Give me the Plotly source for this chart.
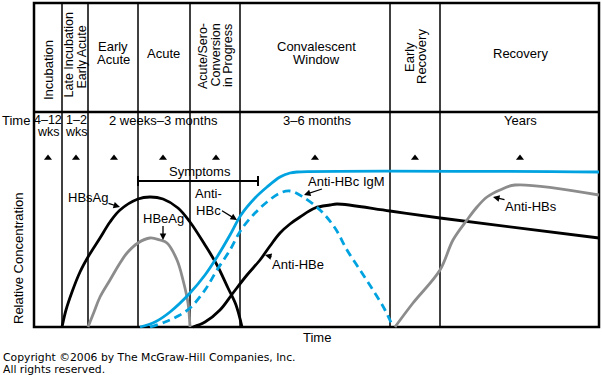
import plotly.graph_objects as go

# ---- data (schematic time units along x, relative concentration along y) ----
hbsag_t = [62, 66, 72, 80, 88, 100, 110, 120, 138, 150, 163, 178, 190, 205, 217, 228, 236, 242]
hbsag_c = [0, 17, 35, 55, 70, 89, 105, 117, 128, 130, 128, 119, 105, 82, 62, 39, 22, 0]
hbeag_t = [88, 94, 100, 110, 120, 127, 138, 150, 160, 167, 177, 183, 188, 190]
hbeag_c = [0, 15, 30, 47, 64, 74, 84, 89, 87, 84, 67, 47, 24, 0]
antihbc_t = [140, 155, 170, 190, 205, 217, 230, 241, 255, 267, 280, 290, 297, 599]
antihbc_c = [0, 5, 15, 34, 52, 70, 92, 112, 129, 140, 150, 154, 155, 155]
igm_t = [150, 165, 178, 190, 205, 217, 230, 241, 255, 267, 280, 290, 303, 320, 335, 347, 360, 373, 385, 393]
igm_c = [0, 5, 11, 19, 37, 57, 77, 97, 114, 125, 134, 136, 130, 117, 99, 77, 57, 37, 17, 0]
antihbe_t = [193, 205, 220, 233, 247, 260, 270, 280, 290, 300, 315, 330, 337, 390, 440, 599]
antihbe_c = [0, 5, 17, 34, 52, 67, 81, 94, 103, 110, 119, 122, 123, 116, 109, 89]
antihbs_t = [395, 413, 440, 453, 467, 477, 487, 500, 515, 599]
antihbs_c = [0, 24, 57, 87, 107, 120, 130, 137, 142, 132]

phase_bounds = [34, 62, 88, 138, 190, 240, 390, 440, 599]
marker_t = [48, 76, 114, 163, 216, 315, 415, 520]
symptoms_span = [138, 258]

BLUE = "#00A3E0"
GRAY = "#8C8C8C"
FONT = "Liberation Sans, Arial, sans-serif"

TOP = 324
HEADER = 215
MARK_Y = 169
SYM_Y = 146

# plot area geometry (pixels)
L, R, T, B = 30, 0, 0, 45
W, H = 602, 375
PW, PH = W - L - R, H - T - B

fig = go.Figure()

def curve(t, c, color, dash="solid"):
    fig.add_trace(go.Scatter(x=t, y=c, mode="lines", cliponaxis=False,
                             line=dict(color=color, width=2.8, shape="spline",
                                       smoothing=1.0, dash=dash),
                             hoverinfo="skip"))

curve(hbsag_t, hbsag_c, "black")
curve(hbeag_t, hbeag_c, GRAY)
curve(antihbe_t, antihbe_c, "black")
curve(antihbs_t, antihbs_c, GRAY)
curve(igm_t, igm_c, BLUE, dash="8px,5px")
curve(antihbc_t, antihbc_c, BLUE)

fig.add_trace(go.Scatter(x=marker_t, y=[MARK_Y] * len(marker_t), mode="markers",
                         marker=dict(symbol="triangle-up", size=7, color="black"),
                         hoverinfo="skip", cliponaxis=False))

shapes = []
shapes.append(dict(type="rect", x0=phase_bounds[0], x1=phase_bounds[-1], y0=0, y1=TOP,
                   line=dict(color="black", width=2.5), layer="below"))
shapes.append(dict(type="line", x0=phase_bounds[0], x1=phase_bounds[-1], y0=HEADER, y1=HEADER,
                   line=dict(color="black", width=2.5), layer="below"))
for b in phase_bounds[1:-1]:
    shapes.append(dict(type="line", x0=b, x1=b, y0=0, y1=TOP,
                       line=dict(color="black", width=1.5), layer="below"))
s0, s1 = symptoms_span
shapes.append(dict(type="line", x0=s0, x1=s1, y0=SYM_Y, y1=SYM_Y, line=dict(color="black", width=2)))
for s in symptoms_span:
    shapes.append(dict(type="line", x0=s, x1=s, y0=SYM_Y - 5, y1=SYM_Y + 5, line=dict(color="black", width=2)))

ann = []
def txt(px, py, text, angle=0, size=13, family=FONT, xanchor="center"):
    # positioned in paper coordinates computed from pixel location
    ann.append(dict(x=(px - L) / PW, y=(H - B - py) / PH, xref="paper", yref="paper",
                    text=text, showarrow=False,
                    textangle=angle, xanchor=xanchor, yanchor="middle", borderpad=0,
                    font=dict(family=family, size=size, color="black")))

def py(v):
    return 327 - v

# header phase names
txt(48, 70, "Incubation", -90)
txt(68.5, 55, "Late Incubation", -90, size=12.5)
txt(81.5, 57, "Early Acute", -90, size=12.5)
txt(113, 46, "Early")
txt(113, 59, "Acute")
txt(163, 53, "Acute")
txt(203, 56, "Acute/Sero-", -90, size=12.5)
txt(215.5, 55, "Conversion", -90, size=12.5)
txt(228, 56, "in Progress", -90, size=12.5)
txt(316, 46, "Convalescent")
txt(316, 59, "Window")
txt(409, 57, "Early", -90)
txt(421, 57, "Recovery", -90)
txt(520, 53, "Recovery")

# time row
txt(16, 120, "Time")
txt(48, 120, "4–12", size=12.5)
txt(48, 132, "wks", size=12.5)
txt(76, 120, "1–2", size=12.5)
txt(76, 132, "wks", size=12.5)
txt(163, 120, "2 weeks–3 months")
txt(317, 120, "3–6 months")
txt(520, 120, "Years")

txt(200, 171, "Symptoms")

# axis titles
txt(18, 258, "Relative Concentration", -90)
txt(317, 337, "Time")

# copyright
txt(2, 357, "Copyright ©2006 by The McGraw-Hill Companies, Inc.", size=10.8,
    family="DejaVu Sans, sans-serif", xanchor="left")
txt(2, 370, "All rights reserved.", size=10.8, family="DejaVu Sans, sans-serif", xanchor="left")

def label(text, tx, ty, hx, hy):
    ann.append(dict(x=hx, y=py(hy), ax=tx, ay=py(ty), xref="x", yref="y", axref="x", ayref="y",
                    text=text, showarrow=True, arrowhead=2, arrowsize=1.0, arrowwidth=1.3,
                    arrowcolor="black", standoff=0, borderpad=0,
                    font=dict(family=FONT, size=13, color="black")))

label("HBsAg", 88, 197, 120, 207)
label("HBeAg", 163, 218, 163, 240)
label("Anti-<br>HBc", 208, 202, 237, 220)
label("Anti-HBe", 298, 264, 265, 255)
label("Anti-HBc IgM", 346, 181, 304, 195)
label("Anti-HBs", 531, 206, 493, 197)

fig.update_layout(width=W, height=H, margin=dict(l=L, r=R, t=T, b=B),
                  plot_bgcolor="white", paper_bgcolor="white", showlegend=False,
                  xaxis=dict(range=[30, 602], visible=False, fixedrange=True),
                  yaxis=dict(range=[-3, 327], visible=False, fixedrange=True),
                  shapes=shapes, annotations=ann)

fig.write_html("out.html", config={"displayModeBar": False},
               post_script="document.body.style.margin='0';document.body.style.overflow='hidden';")
